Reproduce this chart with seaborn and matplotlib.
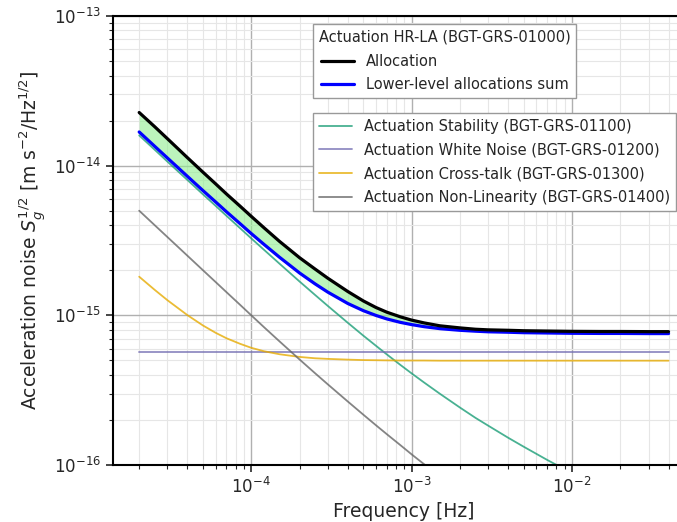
import numpy as np
import pandas as pd
import matplotlib
matplotlib.use('Agg')
import matplotlib.pyplot as plt
import seaborn as sns

# frequencies [Hz]
freq = [2e-5, 2.5e-5, 3e-5, 4e-5, 5e-5, 6e-5, 7e-5, 8.5e-5, 1e-4, 1.2e-4, 1.5e-4,
        2e-4, 2.5e-4, 3e-4, 4e-4, 5e-4, 6e-4, 7e-4, 8.5e-4, 1e-3, 1.2e-3, 1.5e-3,
        2e-3, 2.5e-3, 3e-3, 4e-3, 5e-3, 7e-3, 1e-2, 1.5e-2, 2e-2, 3e-2, 4e-2]

# values, as log10 of S_g^1/2
allocation = [-13.645, -13.740, -13.820, -13.947, -14.044, -14.122, -14.189, -14.270, -14.339,
              -14.415, -14.506, -14.615, -14.691, -14.752, -14.841, -14.904, -14.948, -14.979,
              -15.010, -15.032, -15.051, -15.070, -15.084, -15.093, -15.097, -15.100, -15.103,
              -15.105, -15.107, -15.108, -15.108, -15.109, -15.109]
ll_sum = [-13.775, -13.871, -13.949, -14.072, -14.167, -14.243, -14.308, -14.387, -14.454,
          -14.526, -14.612, -14.717, -14.790, -14.845, -14.921, -14.969, -15.001, -15.024,
          -15.047, -15.062, -15.076, -15.089, -15.100, -15.106, -15.110, -15.113, -15.116,
          -15.118, -15.120, -15.121, -15.121, -15.122, -15.122]
stability = [-13.798, -13.894, -13.973, -14.096, -14.192, -14.269, -14.335, -14.417, -14.486,
             -14.562, -14.655, -14.774, -14.864, -14.937, -15.050, -15.136, -15.204, -15.261,
             -15.331, -15.388, -15.450, -15.524, -15.616, -15.685, -15.737, -15.818, -15.878,
             -15.966, -16.055, -16.153, -16.220, -16.313, -16.378]
white_noise = [-15.247] * 33
cross_talk = [-14.742, -14.830, -14.899, -14.999, -15.068, -15.117, -15.153, -15.190, -15.217,
              -15.240, -15.260, -15.278, -15.287, -15.291, -15.296, -15.299, -15.300, -15.301,
              -15.302, -15.302, -15.302, -15.303, -15.303, -15.303, -15.303, -15.303, -15.303,
              -15.303, -15.303, -15.303, -15.303, -15.303, -15.303]
non_lin = [-14.301, -14.398, -14.477, -14.602, -14.699, -14.778, -14.845, -14.929, -15.000,
           -15.079, -15.174, -15.295, -15.387, -15.461, -15.576, -15.664, -15.735, -15.794,
           -15.867, -15.929, -15.996, -16.077, -16.180, -16.258, -16.321, -16.419, -16.493,
           -16.602, -16.714, -16.837, -16.922, -17.038, -17.118]

df = pd.DataFrame({'freq': freq,
                   'Allocation': 10 ** np.array(allocation),
                   'Lower-level allocations sum': 10 ** np.array(ll_sum),
                   'Actuation Stability (BGT-GRS-01100)': 10 ** np.array(stability),
                   'Actuation White Noise (BGT-GRS-01200)': 10 ** np.array(white_noise),
                   'Actuation Cross-talk (BGT-GRS-01300)': 10 ** np.array(cross_talk),
                   'Actuation Non-Linearity (BGT-GRS-01400)': 10 ** np.array(non_lin)})

sns.set_style('ticks')
plt.rcParams['font.family'] = ['DejaVu Sans']

fig = plt.figure(figsize=(6.77, 5.22), dpi=100)
ax = fig.add_axes([0.1665, 0.1092, 0.8601, 0.8602])

dark2 = sns.color_palette('Dark2', 8)
comp_cols = {'Actuation Stability (BGT-GRS-01100)': dark2[0],
             'Actuation White Noise (BGT-GRS-01200)': dark2[2],
             'Actuation Cross-talk (BGT-GRS-01300)': dark2[5],
             'Actuation Non-Linearity (BGT-GRS-01400)': dark2[7]}

ax.fill_between(df['freq'], df['Lower-level allocations sum'], df['Allocation'],
                color='lightgreen', alpha=0.6, lw=0)

for name, c in comp_cols.items():
    sns.lineplot(data=df, x='freq', y=name, ax=ax, color=c, lw=1.3, alpha=0.8, label=name)
sns.lineplot(data=df, x='freq', y='Lower-level allocations sum', ax=ax, color='blue', lw=2.3,
             label='Lower-level allocations sum')
sns.lineplot(data=df, x='freq', y='Allocation', ax=ax, color='black', lw=2.3, label='Allocation')

ax.set_xscale('log')
ax.set_yscale('log')
ax.set_xlim(10 ** -4.864, 10 ** -1.233)
ax.set_ylim(1e-16, 1e-13)

ax.grid(True, which='major', color='#b0b0b0', lw=1.0)
ax.grid(True, which='minor', color='#e6e6e6', lw=0.8)
ax.set_axisbelow(True)
for s in ax.spines.values():
    s.set_linewidth(1.5)
    s.set_color('black')
ax.tick_params(which='major', labelsize=12, length=5, width=1.2)
ax.tick_params(which='minor', length=3, width=0.8)

ax.set_xlabel('Frequency [Hz]', fontsize=13.5)
ax.set_ylabel(r'Acceleration noise $S_g^{1/2}$ [m s$^{-2}$/Hz$^{1/2}$]', fontsize=13.5)

handles, labels = ax.get_legend_handles_labels()
hmap = dict(zip(labels, handles))
top = ['Allocation', 'Lower-level allocations sum']
leg_kw = dict(loc='upper left', fontsize=10.5, fancybox=False, framealpha=1,
              edgecolor='#999999', handlelength=2.3, borderaxespad=0, labelspacing=0.6)
leg1 = ax.legend([hmap[k] for k in top], top, title='Actuation HR-LA (BGT-GRS-01000)',
                 title_fontsize=10.5, bbox_to_anchor=(0.344, 0.982), **leg_kw)
ax.add_artist(leg1)
bottom = list(comp_cols.keys())
ax.legend([hmap[k] for k in bottom], bottom, bbox_to_anchor=(0.344, 0.784), **leg_kw)

fig.savefig('out.png', dpi=100)
